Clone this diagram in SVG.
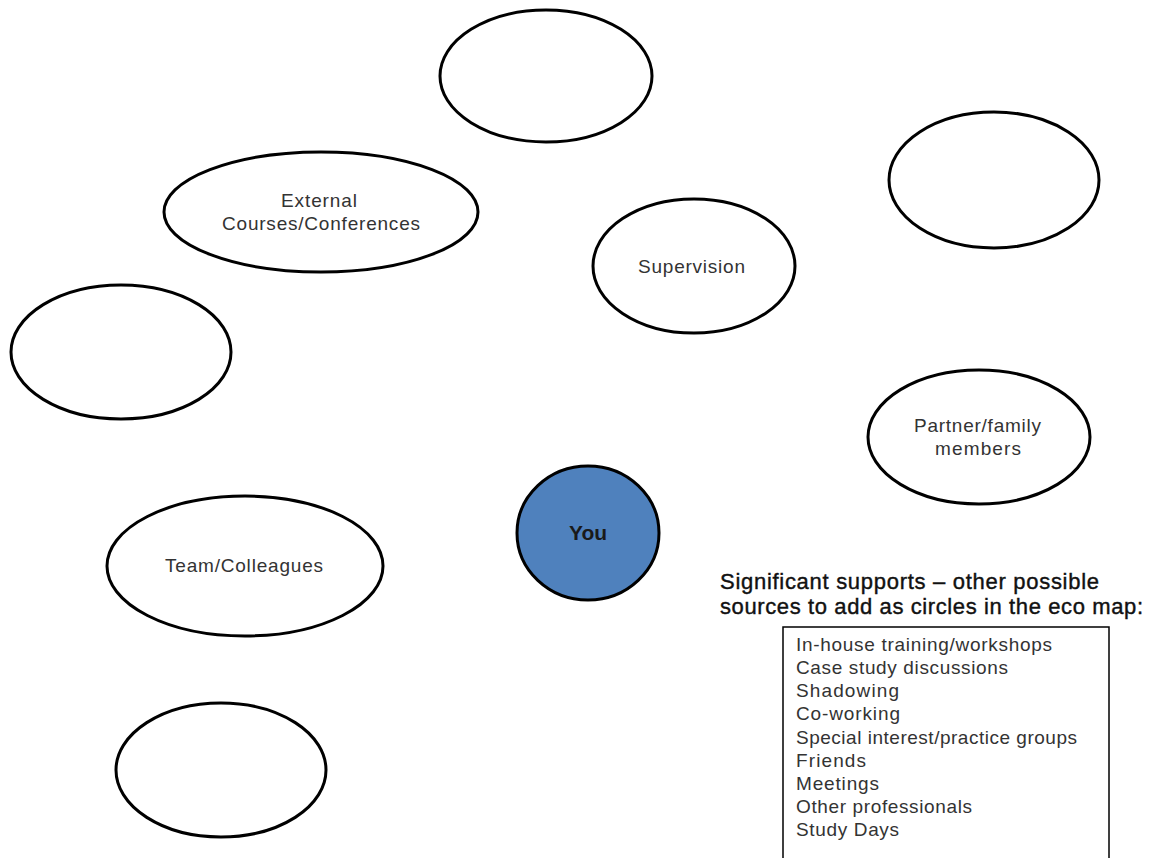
<svg xmlns="http://www.w3.org/2000/svg" width="1150" height="858" viewBox="0 0 1150 858">
<style>
.n{fill:#fff;stroke:#000;stroke-width:3}
.you{fill:#4f81bd;stroke:#000;stroke-width:3}
.t{font-family:"Liberation Sans",Arial,sans-serif;font-size:19px;fill:#333;text-anchor:middle}
.ty{font-family:"Liberation Sans",Arial,sans-serif;font-size:21px;font-weight:bold;fill:#1a1a1a;text-anchor:middle}
.h{font-family:"Liberation Sans",Arial,sans-serif;font-size:22px;fill:#111;stroke:#111;stroke-width:0.4}
.l{font-family:"Liberation Sans",Arial,sans-serif;font-size:19px;fill:#333}
</style>
<rect width="1150" height="858" fill="#fff"/>
<g id="connectors"></g>
<g id="node-top"><ellipse class="n" cx="546" cy="76" rx="106" ry="66"/></g>
<g id="node-topright"><ellipse class="n" cx="994" cy="180" rx="105" ry="68"/></g>
<g id="node-external"><ellipse class="n" cx="321" cy="212" rx="157" ry="60"/>
<text class="t" x="319" y="207" textLength="76" lengthAdjust="spacing">External</text><text class="t" x="321" y="230" textLength="198" lengthAdjust="spacing">Courses/Conferences</text></g>
<g id="node-supervision"><ellipse class="n" cx="694" cy="266" rx="101" ry="67"/>
<text class="t" x="691.5" y="273" textLength="107" lengthAdjust="spacing">Supervision</text></g>
<g id="node-left"><ellipse class="n" cx="121" cy="352" rx="110" ry="67"/></g>
<g id="node-partner"><ellipse class="n" cx="979" cy="437" rx="111" ry="67"/>
<text class="t" x="977.5" y="432" textLength="127" lengthAdjust="spacing">Partner/family</text><text class="t" x="978" y="455" textLength="86" lengthAdjust="spacing">members</text></g>
<g id="node-you"><ellipse class="you" cx="588" cy="533" rx="71" ry="67"/>
<text class="ty" x="588" y="540">You</text></g>
<g id="node-team"><ellipse class="n" cx="245" cy="566" rx="138" ry="70"/>
<text class="t" x="244" y="572" textLength="158" lengthAdjust="spacing">Team/Colleagues</text></g>
<g id="node-bottomleft"><ellipse class="n" cx="221" cy="770" rx="105" ry="67"/></g>
<g id="legend">
<text class="h" x="720" y="589" textLength="379" lengthAdjust="spacing">Significant supports – other possible</text>
<text class="h" x="720" y="614" textLength="423" lengthAdjust="spacing">sources to add as circles in the eco map:</text>
<rect x="783" y="627" width="326" height="240" fill="#fff" stroke="#000" stroke-width="1.5"/>
<text class="l" x="796" y="651" textLength="256" lengthAdjust="spacing">In-house training/workshops</text>
<text class="l" x="796" y="674" textLength="212" lengthAdjust="spacing">Case study discussions</text>
<text class="l" x="796" y="697" textLength="103" lengthAdjust="spacing">Shadowing</text>
<text class="l" x="796" y="720" textLength="104" lengthAdjust="spacing">Co-working</text>
<text class="l" x="796" y="744" textLength="281" lengthAdjust="spacing">Special interest/practice groups</text>
<text class="l" x="796" y="767" textLength="70" lengthAdjust="spacing">Friends</text>
<text class="l" x="796" y="790" textLength="83" lengthAdjust="spacing">Meetings</text>
<text class="l" x="796" y="813" textLength="176" lengthAdjust="spacing">Other professionals</text>
<text class="l" x="796" y="836" textLength="103" lengthAdjust="spacing">Study Days</text>
</g>
</svg>
